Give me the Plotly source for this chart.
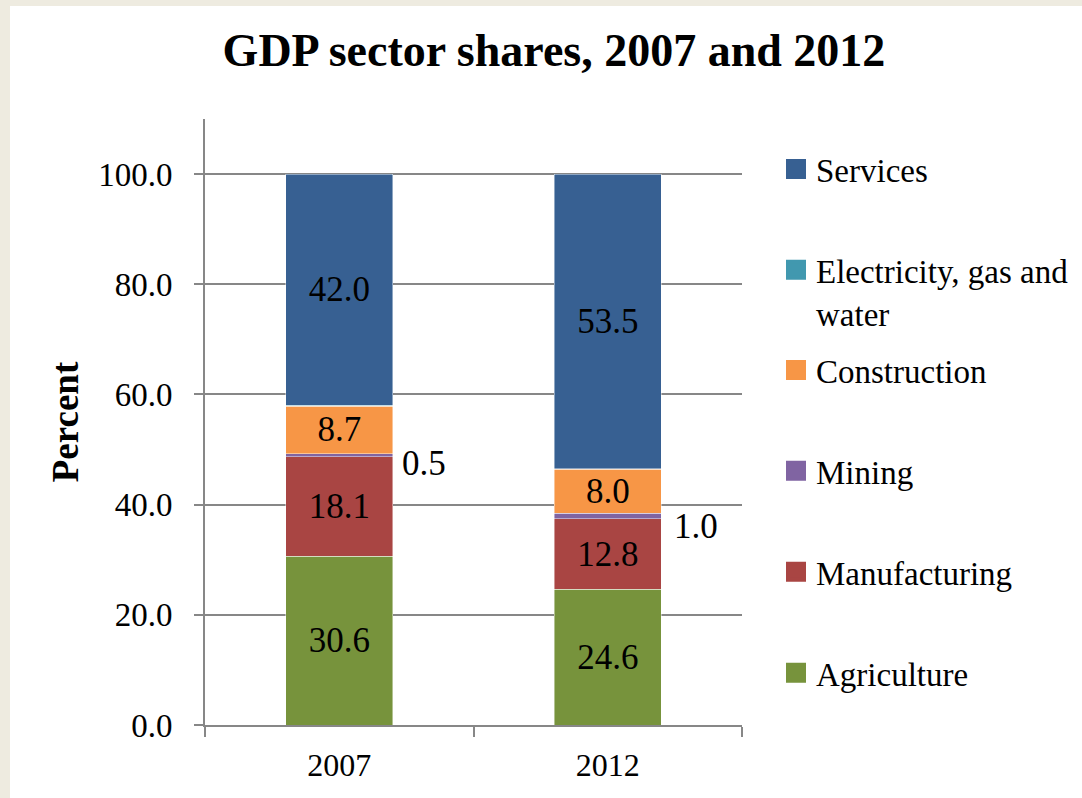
import plotly.graph_objects as go

# GDP shares by sector (percent of total)
years = ["2007", "2012"]
sectors = ["Agriculture", "Manufacturing", "Mining", "Construction",
           "Electricity, gas and water", "Services"]
agriculture = [30.6, 24.6]
manufacturing = [18.1, 12.8]
mining = [0.5, 1.0]
construction = [8.7, 8.0]
electricity = [0.1, 0.1]
services = [42.0, 53.5]
y_ticks = [0, 20, 40, 60, 80, 100]

values = {
    "Agriculture": agriculture,
    "Manufacturing": manufacturing,
    "Mining": mining,
    "Construction": construction,
    "Electricity, gas and water": electricity,
    "Services": services,
}
colors = {
    "Agriculture": "#77933C",
    "Manufacturing": "#A94543",
    "Mining": "#8064A2",
    "Construction": "#F79646",
    "Electricity, gas and water": "#4198AF",
    "Services": "#376092",
}
# sectors whose values are printed inside the bar segments
inside_labels = {"Agriculture", "Manufacturing", "Construction", "Services"}
legend_text = {"Electricity, gas and water": "Electricity, gas and<br>water"}
legend_slot = {"Services": "legend", "Electricity, gas and water": "legend"}

FONT = "Liberation Serif"
W, H = 1082, 798
L, R, T, B = 205, 340, 119, 73
grid_col = "#878787"

fig = go.Figure()

for s in sectors:
    fig.add_trace(go.Bar(
        x=years, y=values[s], name=s, legendgroup=s, showlegend=False,
        width=0.4,
        marker=dict(color=colors[s], line=dict(color="rgba(255,255,255,0.55)", width=0.8)),
        text=[f"{v:.1f}" for v in values[s]] if s in inside_labels else None,
        textposition="inside" if s in inside_labels else "none",
        insidetextanchor="middle", textangle=0, constraintext="none",
        textfont=dict(family=FONT, size=35, color="black"),
        hovertemplate="%{x}: %{y:.1f}<extra>" + s + "</extra>",
    ))

# legend entries with larger square swatches
order = list(reversed(sectors))
for rank, s in enumerate(order, start=1):
    fig.add_trace(go.Scatter(
        x=[None], y=[None], mode="markers", name=legend_text.get(s, s),
        legendgroup=s, legendrank=rank, showlegend=True,
        legend=legend_slot.get(s, "legend2"),
        marker=dict(symbol="square", size=16, color=colors[s],
                    line=dict(color=colors[s], width=4)),
        hoverinfo="skip",
    ))

# mining shares are written beside the bars
mining_xshift = [61, 64]
mining_yshift = [-8, -10]
for i, yr in enumerate(years):
    mid = agriculture[i] + manufacturing[i] + mining[i] / 2
    fig.add_annotation(
        x=i, y=mid, text=f"{mining[i]:.1f}", showarrow=False,
        xanchor="left", yanchor="middle",
        xshift=mining_xshift[i], yshift=mining_yshift[i],
        font=dict(family=FONT, size=35, color="black"),
    )

def py(p):
    # pixel row -> paper y
    return (H - B - p) / (H - T - B)

def px(p):
    return (p - L) / (W - L - R)

# white card over the beige page
fig.add_shape(type="rect", xref="paper", yref="paper",
              x0=px(10), x1=px(W + 5), y0=py(H + 5), y1=py(6),
              fillcolor="white", line=dict(width=0), layer="below")

legend_common = dict(
    xref="container", yref="container", xanchor="left", yanchor="top",
    font=dict(family=FONT, size=33, color="black"),
    bgcolor="rgba(0,0,0,0)", tracegroupgap=55, itemwidth=30,
    valign="top", traceorder="grouped",
)

fig.update_layout(
    width=W, height=H,
    margin=dict(l=L, r=R, t=T, b=B, autoexpand=False),
    paper_bgcolor="#EEEBE0", plot_bgcolor="white",
    font=dict(family=FONT, color="black"),
    title=dict(text="<b>GDP sector shares, 2007 and 2012</b>",
               x=554 / W, xanchor="center", y=1 - 50 / H, yanchor="middle",
               font=dict(family=FONT, size=46, color="black")),
    barmode="stack", bargap=0.6,
    legend=dict(x=776 / W, y=1 - 141 / H, **legend_common),
    legend2=dict(x=776 / W, y=1 - 342 / H, **legend_common),
    xaxis=dict(type="category", range=[-0.5, 1.5], tickson="boundaries",
               ticks="outside", ticklen=10, tickwidth=2, tickcolor=grid_col,
               showline=True, linecolor=grid_col, linewidth=2, showgrid=False,
               tickfont=dict(family=FONT, size=32, color="black"),
               ticklabelstandoff=11, fixedrange=True),
    yaxis=dict(range=[0, 110], tickvals=y_ticks, tickformat=".1f",
               ticks="outside", ticklen=9, tickwidth=2, tickcolor=grid_col,
               showline=True, linecolor=grid_col, linewidth=2,
               showgrid=True, gridcolor=grid_col, gridwidth=1.5, zeroline=False,
               tickfont=dict(family=FONT, size=33, color="black"),
               ticklabelstandoff=15,
               title=dict(text="<b>Percent</b>", standoff=8,
                          font=dict(family=FONT, size=37, color="black")),
               fixedrange=True),
)

fig.write_html("out.html")
